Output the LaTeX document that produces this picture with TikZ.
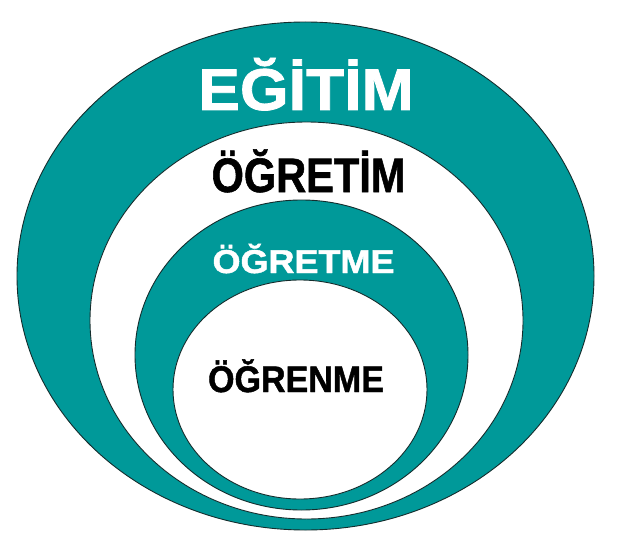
\documentclass[tikz,border=0pt]{standalone}
\usepackage{fontspec}
\setmainfont{Liberation Sans}[BoldFeatures={FakeBold=1.3}]
\usepackage{graphicx}
\definecolor{tealring}{RGB}{0,153,153}
\definecolor{ringline}{RGB}{20,45,45}
\begin{document}
\begin{tikzpicture}[x=1pt,y=-1pt]
\tikzset{
  ring/.style={draw=ringline, line width=0.9pt},
  lbl/.style={inner sep=0pt, anchor=base}
}
\useasboundingbox (0,0) rectangle (623,548);
\fill[white] (0,0) rectangle (623,548);
% rings, outer to inner
\path[ring, fill=tealring] (305.5,276) ellipse [x radius=288.5, y radius=254];
\path[ring, fill=white]    (306.5,320.5) ellipse [x radius=216.5, y radius=198.5];
\path[ring, fill=tealring] (301.5,355) ellipse [x radius=166.5, y radius=155];
\path[ring, fill=white]    (300,389.5) ellipse [x radius=127, y radius=109.5];
% labels
\node[lbl, text=white, font=\bfseries\fontsize{59}{59}\selectfont] (egitim) at (306,110) {\scalebox{1.06}[1]{EĞİTİM}};
\node[lbl, text=black, font=\bfseries\fontsize{48.3}{48.3}\selectfont] (ogretim) at (308.5,192) {\scalebox{0.86}[1]{ÖĞRETİM}};
\node[lbl, text=white, font=\bfseries\fontsize{33}{33}\selectfont] (ogretme) at (303.5,273) {\scalebox{1.09}[1]{ÖĞRETME}};
\node[lbl, text=black, font=\bfseries\fontsize{37}{37}\selectfont] (ogrenme) at (296,392) {\scalebox{0.92}[1]{ÖĞRENME}};
\end{tikzpicture}
\end{document}
